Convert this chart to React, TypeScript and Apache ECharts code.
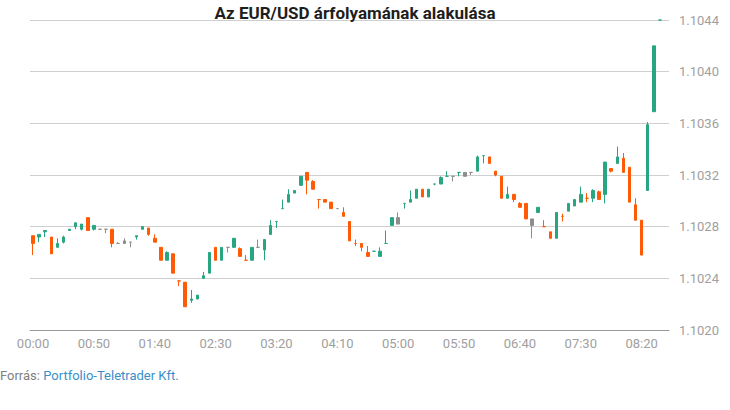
import React, { useEffect, useRef } from "react";
import * as echarts from "echarts";

// Candles: 5-minute EUR/USD, 00:00 .. 08:35
const openVals = [
  1.10273, 1.10272, 1.10276, 1.10272, 1.10264, 1.10268, 1.10277, 1.1028, 1.10278, 1.10287,
  1.10278, 1.10278, 1.10278, 1.10278, 1.10267, 1.10267, 1.10268, 1.10272, 1.10278, 1.10279,
  1.10271, 1.10264, 1.10254, 1.10259, 1.10238, 1.10237, 1.10223, 1.10224, 1.1024, 1.10244,
  1.10264, 1.10254, 1.10264, 1.10264, 1.10263, 1.10254, 1.10254, 1.10264, 1.10262, 1.10274,
  1.10284, 1.10294, 1.10299, 1.10306, 1.10312, 1.10322, 1.10315, 1.10301, 1.10301, 1.10299,
  1.10294, 1.10291, 1.10284, 1.10267, 1.10267, 1.1026, 1.10261, 1.10257, 1.10267, 1.10281,
  1.10282, 1.10298, 1.10299, 1.10302, 1.10309, 1.10303, 1.10313, 1.10313, 1.10319, 1.10319,
  1.10322, 1.10319, 1.10322, 1.10323, 1.10335, 1.10334, 1.10323, 1.10319, 1.10302, 1.10305,
  1.10298, 1.10298, 1.10281, 1.10291, 1.1028, 1.10276, 1.10271, 1.10288, 1.10292, 1.10296,
  1.10299, 1.10302, 1.10302, 1.10307, 1.10305, 1.10325, 1.10329, 1.10333, 1.10326, 1.10297,
  1.10285, 1.10308, 1.10369, 1.1044,
];
const closeVals = [
  1.10267, 1.10274, 1.10277, 1.10259, 1.10267, 1.10272, 1.10278, 1.10283, 1.10282, 1.10277,
  1.10281, 1.10278, 1.10278, 1.10267, 1.10267, 1.10269, 1.10268, 1.10273, 1.1028, 1.10274,
  1.10268, 1.10254, 1.1026, 1.10244, 1.10238, 1.10218, 1.10224, 1.10227, 1.10242, 1.1026,
  1.10254, 1.10264, 1.10264, 1.10271, 1.10257, 1.10254, 1.10264, 1.10264, 1.1027, 1.10281,
  1.10284, 1.10294, 1.10305, 1.10308, 1.10319, 1.10316, 1.10309, 1.10301, 1.10299, 1.10294,
  1.10294, 1.10288, 1.10269, 1.10267, 1.10264, 1.10257, 1.10261, 1.10261, 1.10267, 1.10287,
  1.10287, 1.10298, 1.10301, 1.10309, 1.10303, 1.10309, 1.10313, 1.10318, 1.10319, 1.10319,
  1.10322, 1.10322, 1.10322, 1.10334, 1.10335, 1.10329, 1.1032, 1.10302, 1.10305, 1.10301,
  1.10295, 1.10286, 1.10286, 1.10295, 1.1028, 1.10271, 1.10291, 1.10288, 1.10298, 1.10301,
  1.10305, 1.10302, 1.10308, 1.10301, 1.1033, 1.10323, 1.10334, 1.10322, 1.10299, 1.10285,
  1.10258, 1.10359, 1.1042, 1.1044,
];
const lowVals = [
  1.10258, 1.10268, 1.10272, 1.10259, 1.10264, 1.10267, 1.10277, 1.10278, 1.10277, 1.10277,
  1.10277, 1.10278, 1.10275, 1.10264, 1.10267, 1.10267, 1.10264, 1.1027, 1.10278, 1.10273,
  1.10268, 1.10254, 1.10254, 1.10244, 1.10234, 1.10218, 1.10221, 1.10224, 1.1024, 1.10244,
  1.10254, 1.10254, 1.1026, 1.10264, 1.10257, 1.10254, 1.10254, 1.10264, 1.10254, 1.10274,
  1.10279, 1.10294, 1.10299, 1.10306, 1.10312, 1.10305, 1.10309, 1.10294, 1.10299, 1.10294,
  1.10294, 1.10288, 1.10269, 1.10265, 1.10261, 1.10257, 1.10261, 1.10257, 1.10267, 1.10281,
  1.10282, 1.10294, 1.10299, 1.10302, 1.10303, 1.10303, 1.10312, 1.10313, 1.10319, 1.10315,
  1.10319, 1.10319, 1.1032, 1.10323, 1.10329, 1.10329, 1.10319, 1.10302, 1.10302, 1.10299,
  1.10295, 1.10286, 1.10271, 1.10291, 1.1028, 1.10271, 1.10271, 1.10284, 1.10292, 1.10296,
  1.10299, 1.10299, 1.10299, 1.10301, 1.10298, 1.10322, 1.10329, 1.10322, 1.10299, 1.10285,
  1.10258, 1.10308, 1.10369, 1.1044,
];
const highVals = [
  1.10273, 1.10274, 1.10277, 1.10272, 1.10271, 1.10273, 1.10278, 1.10283, 1.10282, 1.10287,
  1.10281, 1.10278, 1.10278, 1.10278, 1.10268, 1.10271, 1.10268, 1.10273, 1.1028, 1.10279,
  1.10274, 1.10264, 1.10261, 1.10259, 1.10238, 1.10237, 1.10231, 1.10227, 1.10245, 1.1026,
  1.10264, 1.10264, 1.10264, 1.10271, 1.10264, 1.10258, 1.10264, 1.1027, 1.1027, 1.10285,
  1.10284, 1.10301, 1.10309, 1.10308, 1.10319, 1.10322, 1.10316, 1.10301, 1.10301, 1.10299,
  1.10294, 1.10295, 1.10284, 1.1027, 1.10267, 1.10265, 1.10261, 1.10264, 1.10277, 1.10287,
  1.10291, 1.10298, 1.10308, 1.10309, 1.10309, 1.10309, 1.10313, 1.10319, 1.10323, 1.10319,
  1.10322, 1.10322, 1.10322, 1.10335, 1.10335, 1.10334, 1.10323, 1.10319, 1.10311, 1.10305,
  1.10299, 1.10298, 1.10286, 1.10295, 1.10285, 1.10276, 1.10291, 1.1029, 1.10298, 1.10301,
  1.10311, 1.10306, 1.10309, 1.10308, 1.1033, 1.10325, 1.10342, 1.10337, 1.10326, 1.10302,
  1.10285, 1.10361, 1.1042, 1.1044,
];
// candles drawn in grey (unchanged)
const unchanged = [11, 12, 14, 15, 16, 32, 37, 50, 60, 69, 71, 72, 82];

const slotCount = 105;
const timeLabels: string[] = [];
for (let i = 0; i < slotCount; i++) {
  const m = i * 5;
  const hh = String(Math.floor(m / 60)).padStart(2, "0");
  const mm = String(m % 60).padStart(2, "0");
  timeLabels.push(`${hh}:${mm}`);
}

const yTicks = { min: 1.102, max: 1.1044, interval: 0.0004 };

const GREEN = "#28a682";
const ORANGE = "#ff5a05";
const GREY = "#8e8e8e";

export default function App() {
  const ref = useRef<HTMLDivElement>(null);
  useEffect(() => {
    if (!ref.current) return;
    document.body.style.margin = "0";
    const chart = echarts.init(ref.current, undefined, { renderer: "svg" });
    const data = openVals.map((o, i) => {
      const c = closeVals[i];
      let col: string;
      if (unchanged.includes(i)) col = GREY;
      else if (c > o) col = GREEN;
      else if (c < o) col = ORANGE;
      else col = i > 0 && closeVals[i - 1] < c ? GREEN : ORANGE;
      return {
        value: [o, c, lowVals[i], highVals[i]],
        itemStyle: {
          color: col,
          color0: col,
          borderColor: col,
          borderColor0: col,
          borderColorDoji: col,
        },
      };
    });
    chart.setOption({
      animation: false,
      textStyle: { fontFamily: "Roboto, sans-serif" },
      title: {
        text: "Az EUR/USD árfolyamának alakulása",
        left: 350,
        textAlign: "center",
        top: -1,
        textStyle: { fontSize: 17, fontWeight: "bold", color: "#1e1e1e", fontFamily: "Roboto" },
      },
      grid: { left: 30, right: 61, top: 20, bottom: 80 },
      xAxis: {
        type: "category",
        data: timeLabels,
        boundaryGap: true,
        axisLine: { lineStyle: { color: "#999", width: 1 } },
        axisTick: { show: false },
        axisLabel: {
          interval: (i: number) => i % 10 === 0,
          color: "#a0a0a0",
          fontSize: 13,
          margin: 7,
          fontFamily: "Roboto",
        },
        splitLine: { show: false },
      },
      yAxis: {
        type: "value",
        position: "right",
        min: yTicks.min,
        max: yTicks.max,
        interval: yTicks.interval,
        axisLine: { show: false },
        axisTick: { show: false },
        splitLine: { lineStyle: { color: "#cfcfcf", width: 1 } },
        axisLabel: {
          color: "#a0a0a0",
          fontSize: 13,
          margin: 10,
          fontFamily: "Roboto",
          formatter: (v: number) => v.toFixed(4),
        },
      },
      graphic: [
        {
          type: "text",
          left: 0,
          top: 369,
          style: {
            text: "{a|Forrás: }{b|Portfolio-Teletrader Kft.}",
            rich: {
              a: { fill: "#808080", fontSize: 13, fontFamily: "Roboto" },
              b: { fill: "#3a8fc9", fontSize: 13, fontFamily: "Roboto" },
            },
          },
        },
      ],
      series: [
        {
          type: "candlestick",
          data,
          barWidth: 3,
          itemStyle: { borderWidth: 1 },
        },
      ],
    });
    return () => chart.dispose();
  }, []);
  return (
    <div
      ref={ref}
      style={{ position: "absolute", left: 0, top: 0, width: 730, height: 410 }}
    />
  );
}
